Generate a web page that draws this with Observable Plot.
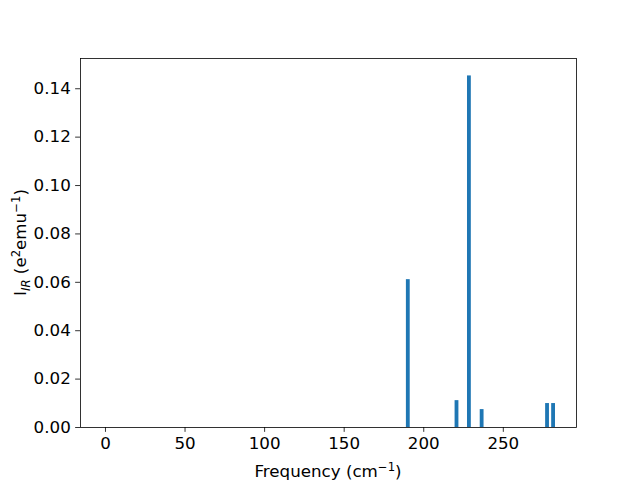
<!DOCTYPE html>
<html><head><meta charset="utf-8">
<script src="https://cdn.jsdelivr.net/npm/d3@7"></script>
<script src="https://cdn.jsdelivr.net/npm/@observablehq/plot@0.6"></script>
<style>body{margin:0;background:#fff}</style>
</head><body><div id="chart"></div>
<script>
const frequencies = [0, 190.3, 220.9, 228.7, 236.7, 277.8, 281.6];
const intensities = [0, 0.0611, 0.0111, 0.1453, 0.0074, 0.0099, 0.0099];
const xTicks = [0, 50, 100, 150, 200, 250];
const yTicks = [0, 0.02, 0.04, 0.06, 0.08, 0.10, 0.12, 0.14];
const barWidth = 2.4;

const data = frequencies.map((f, i) => ({f, I: intensities[i]}));

const font = "'DejaVu Sans', sans-serif";
const fs = 16.7;
const sfs = 11.7;
const plot = Plot.plot({
  width: 640, height: 480,
  marginLeft: 80, marginRight: 64, marginTop: 58, marginBottom: 53,
  style: {fontFamily: font, fontSize: fs + "px", color: "black", background: "white"},
  x: {domain: [-15.7, 296], label: null},
  y: {domain: [0, 0.1525], label: null},
  marks: [
    Plot.rectY(data, {x1: d => d.f - barWidth/2, x2: d => d.f + barWidth/2, y1: 0, y2: "I", fill: "#1f77b4", insetLeft: 0, insetRight: 0}),
    Plot.axisX({ticks: xTicks, tickSize: 4.86, tickPadding: 4.86, tickFormat: d => String(d), label: null, fontSize: fs, strokeWidth: 0.8}),
    Plot.axisY({ticks: yTicks, tickSize: 4.86, tickPadding: 4.86, tickFormat: d3.format(".2f"), label: null, fontSize: fs, strokeWidth: 0.8}),
    Plot.frame({stroke: "black", strokeWidth: 0.8})
  ]
});
document.getElementById("chart").appendChild(plot);

const svg = d3.select(plot);
const xl = svg.append("text").attr("x", 328).attr("y", 477).attr("text-anchor", "middle")
  .attr("font-family", font).attr("font-size", fs).attr("fill", "black");
xl.append("tspan").text("Frequency (cm");
xl.append("tspan").attr("font-size", sfs).attr("dy", -6).text("\u22121");
xl.append("tspan").attr("dy", 6).text(")");

const yl = svg.append("text").attr("transform", "translate(26,242.5) rotate(-90)").attr("text-anchor", "middle")
  .attr("font-family", font).attr("font-size", fs).attr("fill", "black");
yl.append("tspan").text("I");
yl.append("tspan").attr("font-size", sfs).attr("font-style", "italic").attr("dy", 3.5).text("IR");
yl.append("tspan").attr("dy", -3.5).text(" (e");
yl.append("tspan").attr("font-size", sfs).attr("dy", -6).text("2");
yl.append("tspan").attr("dy", 6).text("emu");
yl.append("tspan").attr("font-size", sfs).attr("dy", -6).text("\u22121");
yl.append("tspan").attr("dy", 6).text(")");
</script>
</body></html>
